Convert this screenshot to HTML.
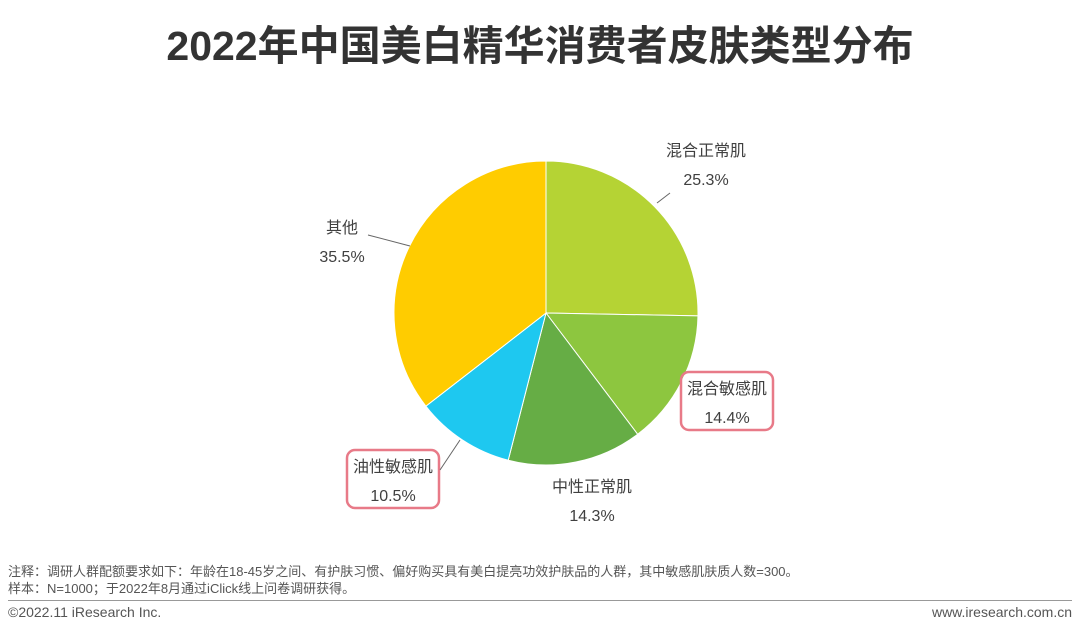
<!DOCTYPE html>
<html><head><meta charset="utf-8"><style>
body{margin:0;width:1080px;height:635px;background:#fff;font-family:"Liberation Sans","Noto Sans CJK SC",sans-serif;position:relative;overflow:hidden}
.t{position:absolute;white-space:nowrap}
</style></head><body>
<div class="t" style="left:0;width:1080px;text-align:center;top:12px;font-size:41px;font-weight:bold;color:#333">2022年中国美白精华消费者皮肤类型分布</div>
<svg id="pie" width="1080" height="560" style="position:absolute;left:0;top:0"></svg>
<div class="t" style="left:8px;top:561px;font-size:13px;color:#555">注释：调研人群配额要求如下：年龄在18-45岁之间、有护肤习惯、偏好购买具有美白提亮功效护肤品的人群，其中敏感肌肤质人数=300。</div>
<div class="t" style="left:8px;top:578px;font-size:13px;color:#555">样本：N=1000；于2022年8月通过iClick线上问卷调研获得。</div>
<div style="position:absolute;left:8px;top:600px;width:1064px;height:1px;background:#999"></div>
<div class="t" style="left:8px;top:604px;font-size:14px;color:#555">©2022.11 iResearch Inc.</div>
<div class="t" style="right:8px;top:604px;font-size:14px;color:#555">www.iresearch.com.cn</div>
<script>
const categories=["混合正常肌","混合敏感肌","中性正常肌","油性敏感肌","其他"];
const values=[25.3,14.4,14.3,10.5,35.5];
const colors=["#b5d334","#8dc63f","#66ad45","#1ec8f0","#ffcc00"];
const svg=document.getElementById('pie');const NS="http://www.w3.org/2000/svg";
const cx=546,cy=313,r=152;const total=values.reduce((a,b)=>a+b,0);
function pt(a,rr){return [cx+rr*Math.sin(a),cy-rr*Math.cos(a)];}
let a0=0;
const labelPos=[[706,150,0],[727,388,1],[592,486,0],[393,466,1],[342,227,0]];
const leaders=[[[657,203],[670,193]],null,null,[[440,470],[460,440]],[[368,235],[410,246]]];
values.forEach((v,i)=>{
 const a1=a0+v/total*2*Math.PI;const p0=pt(a0,r),p1=pt(a1,r);
 const path=document.createElementNS(NS,'path');
 path.setAttribute('d',`M${cx},${cy}L${p0[0]},${p0[1]}A${r},${r} 0 ${a1-a0>Math.PI?1:0} 1 ${p1[0]},${p1[1]}Z`);
 path.setAttribute('fill',colors[i]);path.setAttribute('stroke','#fff');path.setAttribute('stroke-width','1');
 
 
 svg.appendChild(path);
 const [lx,ly,boxed]=labelPos[i];
 if(boxed){const b=document.createElementNS(NS,'rect');b.setAttribute('x',lx-46);b.setAttribute('y',ly-16);b.setAttribute('width',92);b.setAttribute('height',58);b.setAttribute('rx',8);b.setAttribute('fill','none');b.setAttribute('stroke','#e87a88');b.setAttribute('stroke-width','2.5');
 
 
 svg.appendChild(b);}
 [[categories[i],ly+6],[v.toFixed(1)+'%',ly+35]].forEach(([s,y])=>{const t=document.createElementNS(NS,'text');t.setAttribute('x',lx);t.setAttribute('y',y);t.setAttribute('text-anchor','middle');t.setAttribute('font-size','16');t.setAttribute('fill','#404040');t.textContent=s;
 
 
 svg.appendChild(t);});
 if(leaders[i]){const l=document.createElementNS(NS,'polyline');l.setAttribute('points',leaders[i].map(p=>p.join(',')).join(' '));l.setAttribute('stroke','#666');l.setAttribute('fill','none');
 
 
 svg.appendChild(l);}
 a0=a1;
});
</script>
</body></html>
